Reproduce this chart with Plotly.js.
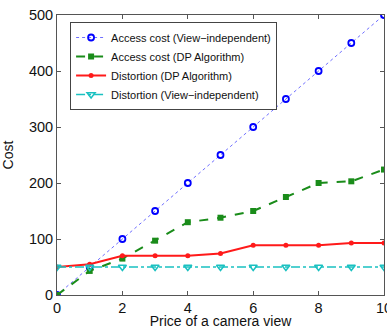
<!DOCTYPE html>
<html><head><meta charset="utf-8">
<script src="https://cdn.plot.ly/plotly-3.0.1.min.js"></script>
<style>html,body{margin:0;padding:0;background:#fff}#c{width:387px;height:329px}</style>
</head><body><div id="c"></div>
<script>
const price = [0,1,2,3,4,5,6,7,8,9,10];
const accessViewIndep = [0,50,100,150,200,250,300,350,400,450,500];
const accessDP = [0,43,65,97,130,138,150,175,200,203,224];
const distortionDP = [50,55,70,70,70,74,89,89,89,93,93];
const distortionViewIndep = [50,50,50,50,50,50,50,50,50,50,50];
const names = ['Access cost (View\u2212independent)','Access cost (DP Algorithm)','Distortion (DP Algorithm)','Distortion (View\u2212independent)'];

const traces = [
 {x:price,y:accessViewIndep,name:names[0],mode:'lines+markers',line:{color:'#6f6fff',dash:'dot',width:1},marker:{symbol:'circle-open',color:'#0000ff',size:6,line:{width:1.8,color:'#0000ff'}}},
 {x:price,y:accessDP,name:names[1],mode:'lines+markers',line:{color:'#1a8c1a',dash:'dash',width:2},marker:{symbol:'square',color:'#1a8c1a',size:6}},
 {x:price,y:distortionDP,name:names[2],mode:'lines+markers',line:{color:'#ff1a1a',width:2},marker:{symbol:'circle',color:'#ff1a1a',size:5}},
 {x:price,y:distortionViewIndep,name:names[3],mode:'lines+markers',line:{color:'#1ac1c1',dash:'dashdot',width:1.5},marker:{symbol:'triangle-down-open',color:'#1ac1c1',size:7,line:{width:1.5,color:'#1ac1c1'}}}
];
const ax = {showgrid:false,zeroline:false,showline:true,linecolor:'#555',linewidth:1,mirror:'ticks',ticks:'inside',ticklen:4,tickcolor:'#555',ticklabeloverflow:'allow',tickfont:{family:'Liberation Sans, Arial, sans-serif',size:14.5,color:'#111'}};
const layout = {
 width:387,height:329,margin:{l:57,r:3,t:15,b:34},
 paper_bgcolor:'#fff',plot_bgcolor:'#fff',showlegend:true,
 font:{family:'Liberation Sans, Arial, sans-serif',color:'#111'},
 xaxis:Object.assign({},ax,{range:[0,10],tickvals:[0,2,4,6,8,10],automargin:false,title:{text:'Price of a camera view',font:{size:14},standoff:6}}),
 yaxis:Object.assign({},ax,{range:[0,500],tickvals:[0,100,200,300,400,500],automargin:false,title:{text:'Cost',font:{size:14},standoff:12}}),
 legend:{x:0.04,y:0.975,xanchor:'left',yanchor:'top',bgcolor:'#fff',bordercolor:'#444',borderwidth:1,font:{size:11},tracegroupgap:0,itemwidth:30}
};
Plotly.newPlot('c',traces,layout,{staticPlot:true});
</script></body></html>
